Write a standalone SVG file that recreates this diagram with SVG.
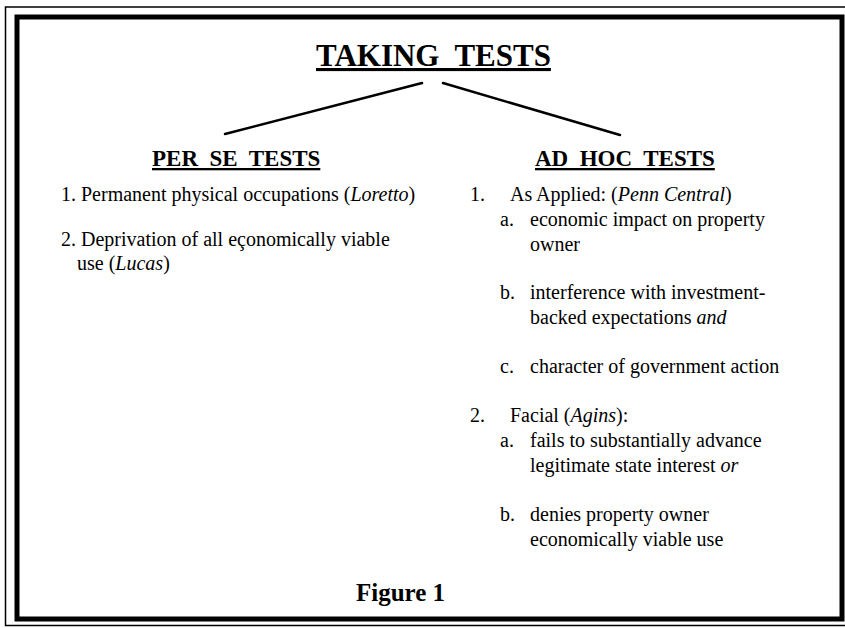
<svg xmlns="http://www.w3.org/2000/svg" width="845" height="628" viewBox="0 0 845 628">
<style>
text{font-family:"Liberation Serif","Times New Roman",serif;fill:#000}
.body{font-size:20px}
.hdr{font-size:23px;font-weight:bold;text-decoration:underline}
.title{font-size:31px;font-weight:bold;text-decoration:underline}
.fig{font-size:25px;font-weight:bold}
.frame{fill:none;stroke:#000}
.conn{stroke:#000;stroke-width:2.5;fill:none;stroke-linecap:round}
</style>
<rect width="845" height="628" fill="#fff"/>
<g id="frame">
<path class="frame" stroke-width="1.5" d="M845 7 H5.5 V625.5 H845"/>
<rect class="frame" stroke-width="5" x="17" y="17" width="825" height="602"/>
</g>
<g id="connectors">
<line class="conn" x1="422" y1="83" x2="225" y2="134"/>
<line class="conn" x1="443" y1="83" x2="620" y2="135"/>
</g>
<g id="title">
<text class="title" x="316" y="66" xml:space="preserve">TAKING  TESTS</text>
</g>
<g id="per-se">
<text class="hdr" x="152" y="166" xml:space="preserve">PER  SE  TESTS</text>
<text class="body" x="61" y="201">1. Permanent physical occupations (<tspan font-style="italic">Loretto</tspan>)</text>
<text class="body" x="61" y="246">2. Deprivation of all eçonomically viable</text>
<text class="body" x="77" y="270">use (<tspan font-style="italic">Lucas</tspan>)</text>
</g>
<g id="ad-hoc">
<text class="hdr" x="535" y="166" xml:space="preserve">AD  HOC  TESTS</text>
<text class="body" x="470" y="201">1.</text>
<text class="body" x="510" y="201">As Applied: (<tspan font-style="italic">Penn Central</tspan>)</text>
<text class="body" x="500" y="226">a.</text>
<text class="body" x="530" y="226">economic impact on property</text>
<text class="body" x="530" y="251">owner</text>
<text class="body" x="500" y="299">b.</text>
<text class="body" x="530" y="299">interference with investment-</text>
<text class="body" x="530" y="324">backed expectations <tspan font-style="italic">and</tspan></text>
<text class="body" x="500" y="373">c.</text>
<text class="body" x="530" y="373">character of government action</text>
<text class="body" x="470" y="422">2.</text>
<text class="body" x="510" y="422">Facial (<tspan font-style="italic">Agins</tspan>):</text>
<text class="body" x="500" y="447">a.</text>
<text class="body" x="530" y="447">fails to substantially advance</text>
<text class="body" x="530" y="472">legitimate state interest <tspan font-style="italic">or</tspan></text>
<text class="body" x="500" y="521">b.</text>
<text class="body" x="530" y="521">denies property owner</text>
<text class="body" x="530" y="546">economically viable use</text>
</g>
<g id="caption">
<text class="fig" x="356" y="601">Figure 1</text>
</g>
</svg>
